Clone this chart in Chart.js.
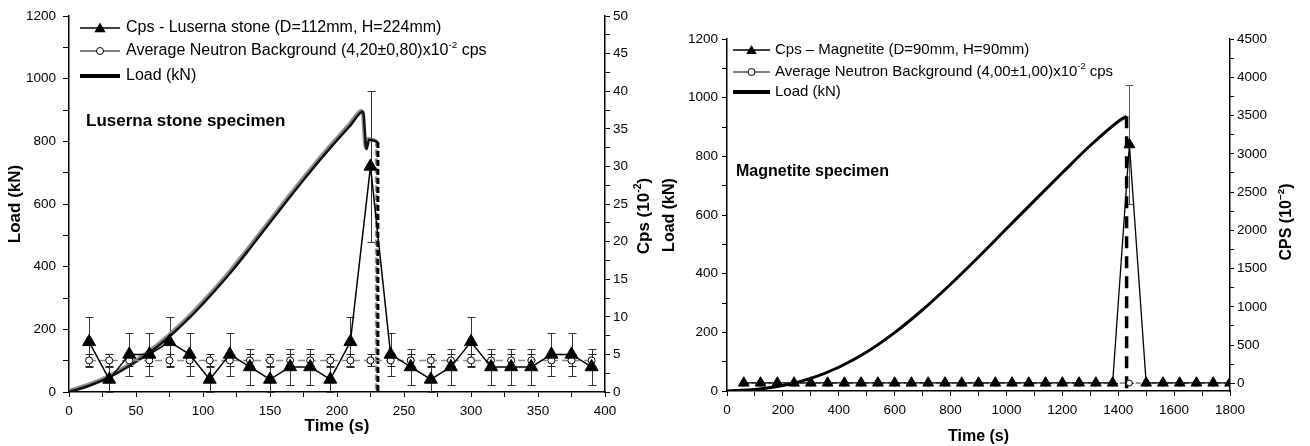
<!DOCTYPE html>
<html>
<head>
<meta charset="utf-8">
<script src="https://cdn.jsdelivr.net/npm/chart.js"></script>
<style>
  html, body { margin: 0; padding: 0; background: #fff; }
  #wrap { position: relative; width: 1310px; height: 446px; }
  canvas { position: absolute; top: 0; }
  #lusChart { left: 0; }
  #magChart { left: 655px; }
</style>
</head>
<body>
<div id="wrap">
  <canvas id="lusChart" width="655" height="446"></canvas>
  <canvas id="magChart" width="655" height="446"></canvas>
</div>
<script>
const FONT = 'Arial, "Liberation Sans", sans-serif';
Chart.defaults.font.family = FONT;
Chart.defaults.color = '#000';

// Luserna stone specimen (left panel)
const lusTime = [15, 30, 45, 60, 75, 90, 105, 120, 135, 150, 165, 180, 195, 210, 225, 240, 255, 270, 285, 300, 315, 330, 345, 360, 375, 390];
const lusCps = [6.67, 1.67, 5, 5, 6.67, 5, 1.67, 5, 3.33, 1.67, 3.33, 3.33, 1.67, 6.67, 30, 5, 3.33, 1.67, 3.33, 6.67, 3.33, 3.33, 3.33, 5, 5, 3.33];
const lusCpsErr = [3.33, 1.67, 2.89, 2.89, 3.33, 2.89, 1.67, 2.89, 2.36, 1.67, 2.36, 2.36, 1.67, 3.33, 10, 2.89, 2.36, 1.67, 2.36, 3.33, 2.36, 2.36, 2.36, 2.89, 2.89, 2.36];
const lusBgMean = 4.20;
const lusBgErr = 0.80;
const lusLoadTime = [0, 15, 30, 45, 60, 75, 90, 105, 120, 135, 150, 165, 180, 195, 210, 219.5, 222, 224, 229, 230.5];
const lusLoad = [0, 20, 47, 83, 125, 177, 237, 305, 378, 458, 541, 623, 703, 779, 851, 895, 775, 805, 800, 798];

// Magnetite specimen (right panel)
const magTime = [60, 120, 180, 240, 300, 360, 420, 480, 540, 600, 660, 720, 780, 840, 900, 960, 1020, 1080, 1140, 1200, 1260, 1320, 1380, 1440, 1500, 1560, 1620, 1680, 1740, 1800];
const magCps = [5, 5, 5, 5, 5, 5, 5, 5, 5, 5, 5, 5, 5, 5, 5, 5, 5, 5, 5, 5, 5, 5, 5, 3120, 5, 5, 5, 5, 5, 5];
const magCpsErr = [3, 3, 3, 3, 3, 3, 3, 3, 3, 3, 3, 3, 3, 3, 3, 3, 3, 3, 3, 3, 3, 3, 3, 775, 3, 3, 3, 3, 3, 3];
const magBgMean = 4.00;
const magBgErr = 1.00;
const magLoadTime = [0, 100, 200, 300, 400, 500, 600, 700, 800, 900, 1000, 1100, 1200, 1300, 1400, 1430];
const magLoad = [0, 5, 19, 43, 81, 133, 199, 277, 364, 457, 553, 649, 744, 837, 919, 937];

// error bars drawn under the markers
const errorBars = {
    id: 'errorBars',
    beforeDatasetsDraw(chart) {
        const ctx = chart.ctx;
        chart.data.datasets.forEach((ds, i) => {
            if (!ds.errors) return;
            const meta = chart.getDatasetMeta(i);
            const yScale = chart.scales[meta.yAxisID];
            ctx.save();
            ctx.strokeStyle = ds.errorColor || '#000';
            ctx.lineWidth = 1;
            meta.data.forEach((pt, j) => {
                const e = ds.errors[j];
                if (!e) return;
                const v = ds.data[j].y;
                const x = Math.round(pt.x) + 0.5;
                const top = Math.round(yScale.getPixelForValue(v + e)) + 0.5;
                const bot = Math.round(yScale.getPixelForValue(v - e)) + 0.5;
                const w = ds.capWidth || 4;
                ctx.beginPath();
                ctx.moveTo(x, top); ctx.lineTo(x, bot);
                ctx.moveTo(x - w, top); ctx.lineTo(x + w, top);
                ctx.moveTo(x - w, bot); ctx.lineTo(x + w, bot);
                ctx.stroke();
            });
            ctx.restore();
        });
    }
};

// grey halo on the load curve, like the original print
const loadShadow = {
    id: 'loadShadow',
    beforeDatasetDraw(chart, args) {
        const ds = chart.data.datasets[args.index];
        if (!ds.shadow) return;
        const ctx = chart.ctx;
        ctx.save();
        ctx.shadowColor = ds.shadow;
        ctx.shadowOffsetX = -1.5;
        ctx.shadowOffsetY = -1.5;
        ctx.shadowBlur = 0.5;
    },
    afterDatasetDraw(chart, args) {
        if (chart.data.datasets[args.index].shadow) chart.ctx.restore();
    }
};

// text with superscript parts: [[text, isSup], ...]
function richText(ctx, parts, x, y, size, bold, measureOnly) {
    let cx = x;
    parts.forEach(([t, sup]) => {
        const s = sup ? size * 0.62 : size;
        ctx.font = (bold ? 'bold ' : '') + s + 'px ' + FONT;
        if (!measureOnly) ctx.fillText(t, cx, sup ? y - size * 0.36 : y);
        cx += ctx.measureText(t).width;
    });
    return cx - x;
}

function triangle(ctx, x, y, r) {
    ctx.beginPath();
    ctx.moveTo(x, y - r);
    ctx.lineTo(x + r * Math.sqrt(3) / 2, y + r / 2);
    ctx.lineTo(x - r * Math.sqrt(3) / 2, y + r / 2);
    ctx.closePath();
    ctx.fill();
}

// legend, specimen note and right axis title
function makeOverlay(cfg) {
    return {
        id: 'overlay',
        afterDraw(chart) {
            const ctx = chart.ctx;
            const L = cfg.legend;
            ctx.save();
            ctx.fillStyle = '#000';
            ctx.strokeStyle = '#000';
            ctx.textBaseline = 'middle';
            ctx.textAlign = 'left';
            L.rows.forEach(row => {
                ctx.beginPath();
                ctx.lineWidth = row.lw;
                ctx.moveTo(L.x0, row.y);
                ctx.lineTo(L.x1, row.y);
                ctx.stroke();
                const mx = (L.x0 + L.x1) / 2;
                if (row.marker === 'triangle') {
                    triangle(ctx, mx, row.y + 1, L.triR);
                } else if (row.marker === 'circle') {
                    ctx.beginPath();
                    ctx.lineWidth = 1;
                    ctx.fillStyle = '#fff';
                    ctx.arc(mx, row.y, 3.5, 0, Math.PI * 2);
                    ctx.fill();
                    ctx.stroke();
                    ctx.fillStyle = '#000';
                }
                richText(ctx, row.text, L.tx, row.y, L.size, false);
            });

            ctx.font = 'bold ' + cfg.note.size + 'px ' + FONT;
            ctx.fillText(cfg.note.text, cfg.note.x, cfg.note.y);

            const T = cfg.y2Title;
            const w = richText(ctx, T.parts, 0, 0, T.size, true, true);
            ctx.translate(T.x, T.y);
            ctx.rotate(-Math.PI / 2);
            richText(ctx, T.parts, -w / 2, 0, T.size, true);
            ctx.restore();
        }
    };
}

function axisStyle(tickLength) {
    return {
        grid: { drawOnChartArea: false, tickLength: tickLength, tickColor: '#000', tickWidth: 1 },
        border: { color: '#000', width: 1.5 }
    };
}

// Left chart
const lusConfig = {
    type: 'line',
    data: {
        datasets: [{
            label: 'Cps - Luserna stone',
            data: lusTime.map((t, i) => ({ x: t, y: lusCps[i] })),
            errors: lusCpsErr,
            errorColor: '#333',
            yAxisID: 'y2',
            borderColor: '#000',
            borderWidth: 1.5,
            pointStyle: 'triangle',
            pointRadius: 7.5,
            pointBackgroundColor: '#000',
            pointBorderColor: '#000',
            pointBorderWidth: 1
        }, {
            label: 'Average Neutron Background',
            data: lusTime.map(t => ({ x: t, y: lusBgMean })),
            errors: lusTime.map(() => lusBgErr),
            errorColor: '#222',
            yAxisID: 'y2',
            borderColor: '#8a8a8a',
            borderWidth: 1.5,
            borderDash: [7, 4],
            pointStyle: 'circle',
            pointRadius: 3.5,
            pointBackgroundColor: '#fff',
            pointBorderColor: '#000',
            pointBorderWidth: 1
        }, {
            label: 'Load (kN)',
            data: lusLoadTime.map((t, i) => ({ x: t, y: lusLoad[i] })),
            yAxisID: 'y',
            borderColor: '#111',
            borderWidth: 2.5,
            pointRadius: 0,
            shadow: 'rgba(130,130,130,0.9)',
            cubicInterpolationMode: 'monotone'
        }, {
            label: 'Load drop',
            data: [
                { x: lusLoadTime[lusLoadTime.length - 1], y: lusLoad[lusLoad.length - 1] },
                { x: lusLoadTime[lusLoadTime.length - 1], y: 0 }
            ],
            yAxisID: 'y',
            borderColor: '#000',
            borderWidth: 3,
            borderDash: [6, 3],
            pointRadius: 0,
            shadow: 'rgba(130,130,130,0.9)'
        }]
    },
    options: {
        responsive: false,
        animation: false,
        devicePixelRatio: 1,
        layout: { padding: { top: 16, left: 0, right: 0, bottom: 0 } },
        plugins: { legend: { display: false }, tooltip: { enabled: false } },
        scales: {
            x: {
                type: 'linear', min: 0, max: 400,
                afterFit: s => { s.height = 54; },
                ticks: { stepSize: 25, autoSkip: false, maxRotation: 0, padding: 6, font: { size: 13.5 },
                    callback: v => v % 50 === 0 ? v : '' },
                title: { display: true, text: 'Time (s)', font: { size: 17, weight: 'bold' }, padding: { top: 0, bottom: 9 } },
                ...axisStyle(5)
            },
            y: {
                position: 'left', min: 0, max: 1200,
                afterFit: s => { s.width = 69; },
                ticks: { stepSize: 100, autoSkip: false, padding: 7, font: { size: 13.5 },
                    callback: v => v % 200 === 0 ? v : '' },
                title: { display: true, text: 'Load (kN)', font: { size: 17, weight: 'bold' }, padding: { top: 5, bottom: 0 } },
                ...axisStyle(6)
            },
            y2: {
                position: 'right', min: 0, max: 50,
                afterFit: s => { s.width = 50; },
                ticks: { stepSize: 2.5, autoSkip: false, padding: 3, font: { size: 13.5 },
                    callback: v => v % 5 === 0 ? v : '' },
                ...axisStyle(5)
            }
        }
    },
    plugins: [errorBars, loadShadow, makeOverlay({
        legend: {
            x0: 80, x1: 120, tx: 126, size: 16, triR: 6.5,
            rows: [
                { y: 28, lw: 1.5, marker: 'triangle', text: [['Cps - Luserna stone (D=112mm, H=224mm)']] },
                { y: 51, lw: 1, marker: 'circle', text: [['Average Neutron Background (4,20\u00b10,80)x10'], ['-2', true], [' cps']] },
                { y: 76, lw: 4, marker: null, text: [['Load (kN)']] }
            ]
        },
        note: { text: 'Luserna stone specimen', x: 86, y: 121, size: 17 },
        y2Title: { x: 644, y: 216, size: 17, parts: [['Cps (10'], ['-2', true], [')']] }
    })]
};

// Right chart
const magConfig = {
    type: 'line',
    data: {
        datasets: [{
            label: 'Cps - Magnetite',
            data: magTime.map((t, i) => ({ x: t, y: magCps[i] })),
            errors: magCpsErr,
            errorColor: '#555',
            yAxisID: 'y2',
            borderColor: '#000',
            borderWidth: 1.3,
            pointStyle: 'triangle',
            pointRadius: 6.2,
            pointBackgroundColor: '#000',
            pointBorderColor: '#000',
            pointBorderWidth: 1
        }, {
            label: 'Average Neutron Background',
            data: magTime.map(t => ({ x: t, y: magBgMean })),
            errors: magTime.map(() => magBgErr),
            yAxisID: 'y2',
            borderColor: '#333',
            borderWidth: 1,
            borderDash: [5, 3],
            pointStyle: 'circle',
            pointRadius: 3,
            pointBackgroundColor: '#fff',
            pointBorderColor: '#000',
            pointBorderWidth: 1
        }, {
            label: 'Load (kN)',
            data: magLoadTime.map((t, i) => ({ x: t, y: magLoad[i] })),
            yAxisID: 'y',
            borderColor: '#000',
            borderWidth: 3,
            pointRadius: 0,
            cubicInterpolationMode: 'monotone'
        }, {
            label: 'Load drop',
            data: [
                { x: magLoadTime[magLoadTime.length - 1], y: magLoad[magLoad.length - 1] },
                { x: magLoadTime[magLoadTime.length - 1], y: 0 }
            ],
            yAxisID: 'y',
            borderColor: '#000',
            borderWidth: 3.5,
            borderDash: [12, 8],
            pointRadius: 0
        }]
    },
    options: {
        responsive: false,
        animation: false,
        devicePixelRatio: 1,
        layout: { padding: { top: 39, left: 0, right: 0, bottom: 0 } },
        plugins: { legend: { display: false }, tooltip: { enabled: false } },
        scales: {
            x: {
                type: 'linear', min: 0, max: 1800,
                afterFit: s => { s.height = 55; },
                ticks: { stepSize: 100, autoSkip: false, maxRotation: 0, padding: 6, font: { size: 13.5 },
                    callback: v => v % 200 === 0 ? v : '' },
                title: { display: true, text: 'Time (s)', font: { size: 16, weight: 'bold' }, padding: { top: 0, bottom: 0 } },
                ...axisStyle(5)
            },
            y: {
                position: 'left', min: 0, max: 1200,
                afterFit: s => { s.width = 72; },
                ticks: { stepSize: 100, autoSkip: false, padding: 4, font: { size: 13.5 },
                    callback: v => v % 200 === 0 ? v : '' },
                title: { display: true, text: 'Load (kN)', font: { size: 16, weight: 'bold' }, padding: { top: 4.5, bottom: 0 } },
                ...axisStyle(5)
            },
            y2: {
                position: 'right', min: -100, max: 4500,
                afterFit: s => { s.width = 80; },
                afterBuildTicks: s => {
                    s.ticks = s.ticks.filter(t => t.value >= 0);
                    if (!s.ticks.length || s.ticks[0].value !== 0) s.ticks.unshift({ value: 0 });
                },
                ticks: { stepSize: 250, autoSkip: false, padding: 3, font: { size: 13.5 },
                    callback: v => v % 500 === 0 ? v : '' },
                ...axisStyle(4)
            }
        }
    },
    plugins: [errorBars, makeOverlay({
        legend: {
            x0: 78, x1: 115, tx: 120, size: 15, triR: 6,
            rows: [
                { y: 50, lw: 1.5, marker: 'triangle', text: [['Cps \u2013 Magnetite (D=90mm, H=90mm)']] },
                { y: 72, lw: 1, marker: 'circle', text: [['Average Neutron Background (4,00\u00b11,00)x10'], ['-2', true], [' cps']] },
                { y: 92, lw: 4, marker: null, text: [['Load (kN)']] }
            ]
        },
        note: { text: 'Magnetite specimen', x: 81, y: 172, size: 16 },
        y2Title: { x: 632, y: 222, size: 16, parts: [['CPS (10'], ['\u22122', true], [')']] }
    })]
};

new Chart(document.getElementById('lusChart').getContext('2d'), lusConfig);
new Chart(document.getElementById('magChart').getContext('2d'), magConfig);
</script>
</body>
</html>
